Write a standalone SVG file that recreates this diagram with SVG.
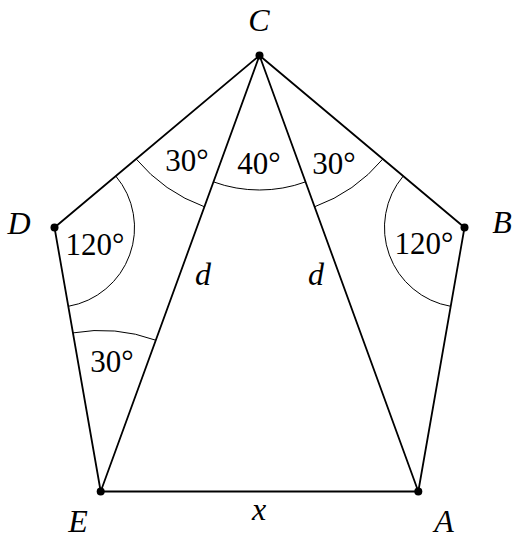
<svg xmlns="http://www.w3.org/2000/svg" width="517" height="539" viewBox="0 0 517 539">
<style>
.edge{stroke:#000;stroke-width:1.8;fill:none;stroke-linecap:round}
.arc{stroke:#000;stroke-width:1;fill:none}
.dot{fill:#000}
text{font-family:"Liberation Serif","Times New Roman",serif;font-size:31px;fill:#000;text-anchor:middle}
.v{font-style:italic;font-size:32px}
</style>
<rect width="517" height="539" fill="#fff"/>
<g id="connectors">
<line class="edge" x1="259.5" y1="55.5" x2="54.5" y2="227.5"/>
<line class="edge" x1="259.5" y1="55.5" x2="464.5" y2="227.5"/>
<line class="edge" x1="54.5" y1="227.5" x2="100.7" y2="491.5"/>
<line class="edge" x1="464.5" y1="227.5" x2="418.3" y2="491.5"/>
<line class="edge" x1="100.7" y1="491.5" x2="418.3" y2="491.5"/>
<line class="edge" x1="259.5" y1="55.5" x2="100.7" y2="491.5"/>
<line class="edge" x1="259.5" y1="55.5" x2="418.3" y2="491.5"/>
</g>
<g id="angles">
<path class="arc" d="M204.43,206.79 A161,161 0 0 1 136.17,158.99"/>
<path class="arc" d="M305.5,181.89 A134.5,134.5 0 0 1 213.5,181.89"/>
<path class="arc" d="M382.83,158.99 A161,161 0 0 1 314.57,206.79"/>
<path class="arc" d="M115.78,176.08 A80,80 0 0 1 68.3,306.31"/>
<path class="arc" d="M450.7,306.31 A80,80 0 0 1 403.22,176.08"/>
<path class="arc" d="M72.93,332.9 A161,161 0 0 1 155.77,340.21"/>
</g>
<g id="node-C"><circle class="dot" cx="259.5" cy="55.5" r="4"/><text class="v" x="259" y="31">C</text></g>
<g id="node-D"><circle class="dot" cx="54.5" cy="227.5" r="4"/><text class="v" x="19" y="234">D</text></g>
<g id="node-B"><circle class="dot" cx="464.5" cy="227.5" r="4"/><text class="v" x="502" y="233">B</text></g>
<g id="node-E"><circle class="dot" cx="100.7" cy="491.5" r="4"/><text class="v" x="78" y="532">E</text></g>
<g id="node-A"><circle class="dot" cx="418.3" cy="491.5" r="4"/><text class="v" x="444" y="532">A</text></g>
<g id="labels">
<text x="187" y="171">30°</text>
<text x="259" y="174">40°</text>
<text x="334" y="174">30°</text>
<text x="95" y="255">120°</text>
<text x="424" y="254">120°</text>
<text x="112" y="372">30°</text>
<text class="v" x="203" y="285">d</text>
<text class="v" x="316" y="285">d</text>
<text class="v" x="259" y="520">x</text>
</g>
</svg>
